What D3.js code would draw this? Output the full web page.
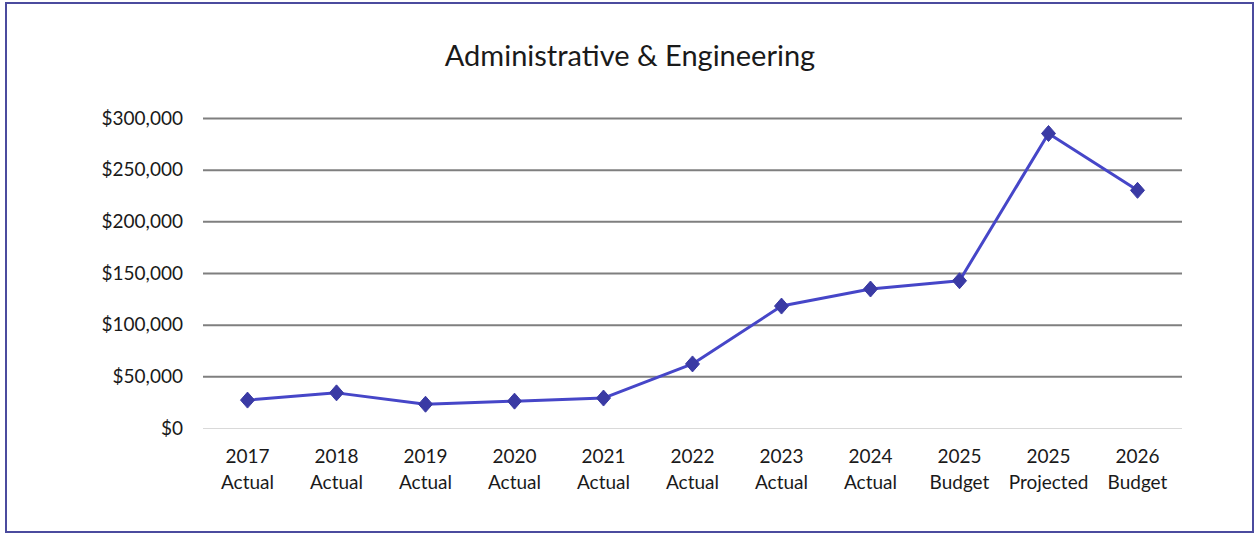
<!DOCTYPE html>
<html>
<head>
<meta charset="utf-8">
<script src="https://cdn.jsdelivr.net/npm/d3@7"></script>
<style>
  html, body { margin: 0; padding: 0; background: #ffffff; }
  svg { display: block; }
</style>
</head>
<body>
<svg id="chart" width="1255" height="535"></svg>
<script>
// Spending by year: actuals, 2025 budget vs projection, 2026 budget
const years   = ["2017", "2018", "2019", "2020", "2021", "2022", "2023", "2024", "2025", "2025", "2026"];
const kinds   = ["Actual", "Actual", "Actual", "Actual", "Actual", "Actual", "Actual", "Actual", "Budget", "Projected", "Budget"];
const amounts = [27000, 34000, 23000, 26000, 29000, 62000, 118000, 134500, 142500, 285000, 230000];
const yTicks  = [0, 50000, 100000, 150000, 200000, 250000, 300000];
const title   = "Administrative & Engineering";

const plot = { left: 203, right: 1182, top: 118, bottom: 428 };
const font = "Lato, 'Open Sans', sans-serif";

const svg = d3.select("#chart");

// outer frame
svg.append("rect")
  .attr("x", 6).attr("y", 3).attr("width", 1247).attr("height", 529)
  .attr("fill", "#ffffff").attr("stroke", "#4b4b9e").attr("stroke-width", 2);

const keys = years.map((y, i) => i);
const x = d3.scaleBand().domain(keys).range([plot.left, plot.right]);
const y = d3.scaleLinear().domain([0, 300000]).range([plot.bottom, plot.top]);
const cx = i => x(i) + x.bandwidth() / 2;

// title
svg.append("text")
  .attr("x", 630).attr("y", 66)
  .attr("text-anchor", "middle")
  .attr("font-family", font).attr("font-size", 29).attr("fill", "#1a1a1a")
  .text(title);

// horizontal gridlines and y labels
const yAxis = d3.axisLeft(y)
  .tickValues(yTicks)
  .tickSize(-(plot.right - plot.left))
  .tickPadding(20)
  .tickFormat(v => "$" + d3.format(",")(v));

const gy = svg.append("g")
  .attr("transform", `translate(${plot.left},0)`)
  .call(yAxis);
gy.select(".domain").remove();
gy.selectAll(".tick line")
  .attr("stroke", d => d === 0 ? "#d9d9d9" : "#7f7f7f")
  .attr("stroke-width", d => d === 0 ? 1 : 2);
gy.selectAll(".tick text")
  .attr("font-family", font).attr("font-size", 19).attr("fill", "#1a1a1a");

// x labels on two lines
const gx = svg.append("g");
keys.forEach(i => {
  const t = gx.append("text")
    .attr("text-anchor", "middle")
    .attr("font-family", font).attr("font-size", 19).attr("fill", "#1a1a1a");
  t.append("tspan").attr("x", cx(i)).attr("y", 463).text(years[i]);
  t.append("tspan").attr("x", cx(i)).attr("y", 489).text(kinds[i]);
});

// series line
const line = d3.line()
  .x(i => cx(i))
  .y(i => y(amounts[i]));

svg.append("path")
  .datum(keys)
  .attr("d", line)
  .attr("fill", "none")
  .attr("stroke", "#4646c8")
  .attr("stroke-width", 3)
  .attr("stroke-linejoin", "round");

// diamond markers
const diamondPath = "M0,-8L7,0L0,8L-7,0Z";
svg.append("g").selectAll("path")
  .data(keys)
  .join("path")
  .attr("transform", i => `translate(${cx(i)},${y(amounts[i])})`)
  .attr("d", diamondPath)
  .attr("fill", "#3a3aa4")
  .attr("stroke", "#3a3aa4")
  .attr("stroke-width", 1);
</script>
</body>
</html>
